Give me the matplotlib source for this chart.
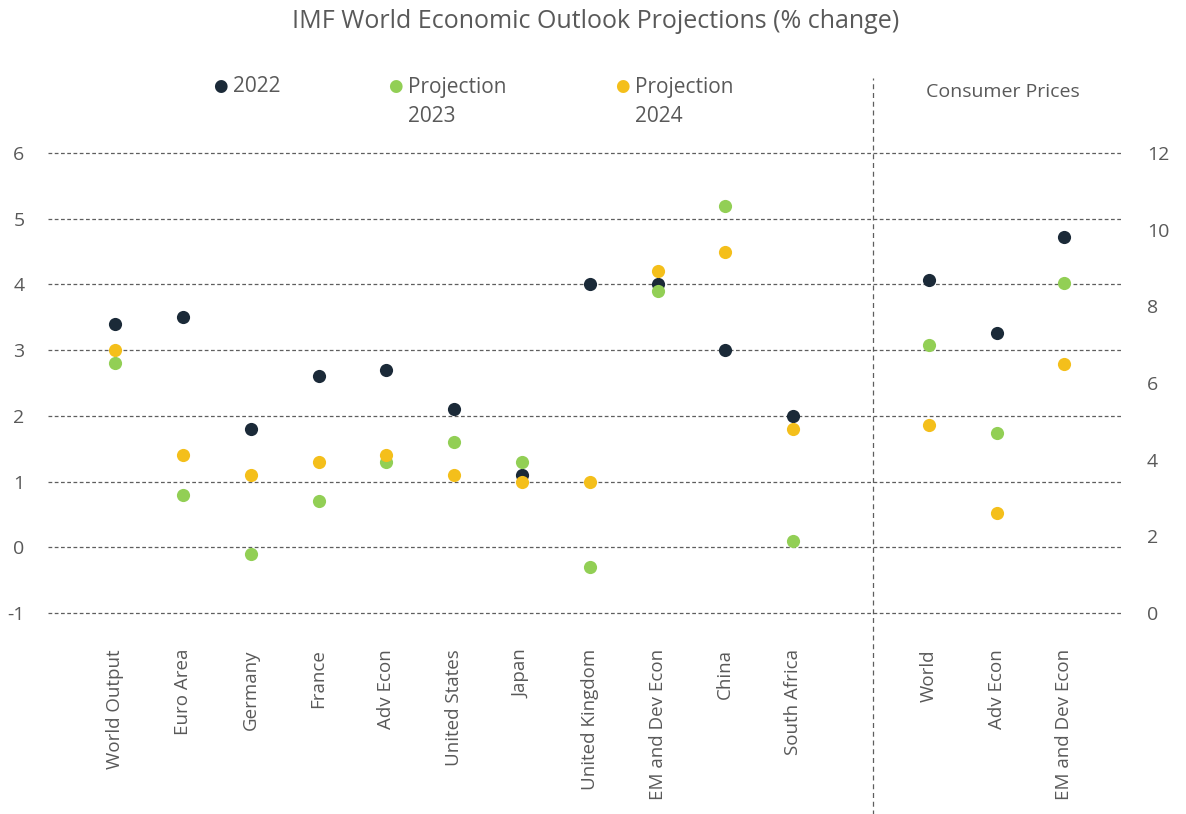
import matplotlib.pyplot as plt

plt.rcParams['font.family'] = ['Open Sans', 'DejaVu Sans']
plt.rcParams['axes.unicode_minus'] = False

# === Data (IMF WEO, % change) ===
growth_labels = ["World Output", "Euro Area", "Germany", "France", "Adv Econ",
                 "United States", "Japan", "United Kingdom", "EM and Dev Econ",
                 "China", "South Africa"]
growth_2022 = [3.4, 3.5, 1.8, 2.6, 2.7, 2.1, 1.1, 4.0, 4.0, 3.0, 2.0]
growth_2023 = [2.8, 0.8, -0.1, 0.7, 1.3, 1.6, 1.3, -0.3, 3.9, 5.2, 0.1]
growth_2024 = [3.0, 1.4, 1.1, 1.3, 1.4, 1.1, 1.0, 1.0, 4.2, 4.5, 1.8]

cpi_labels = ["World", "Adv Econ", "EM and Dev Econ"]
cpi_2022 = [8.7, 7.3, 9.8]
cpi_2023 = [7.0, 4.7, 8.6]
cpi_2024 = [4.9, 2.6, 6.5]

c2022 = "#1b2a38"
c2023 = "#92cf55"
c2024 = "#f4bf1b"
txt = "#595959"

gx = list(range(len(growth_labels)))
cx = [12 + i for i in range(len(cpi_labels))]

fig = plt.figure(figsize=(11.86, 8.14), dpi=100)
ax = fig.add_axes([48 / 1186, (814 - 613) / 814, 1074 / 1186, (613 - 78) / 814])
ax2 = ax.twinx()

ytop = 6 + (153 - 78) / 65.7
ax.set_ylim(-1, ytop)
ax2.set_ylim(0, (ytop + 1) * 12 / 7)
ax.set_xlim(-0.99, 14.85)

for v in range(-1, 7):
    ax.axhline(v, color="#5e5e5e", lw=0.9, ls=(0, (3, 2)), zorder=1, clip_on=False)

ax.axvline(11.18, ymin=-0.38, ymax=1, color="#5e5e5e", lw=0.9, ls=(0, (4, 3)),
           clip_on=False, zorder=1)

ms = 90
ax.scatter(gx, growth_2022, s=ms, color=c2022, zorder=3, lw=0)
ax.scatter(gx, growth_2023, s=ms, color=c2023, zorder=3, lw=0)
ax.scatter(gx, growth_2024, s=ms, color=c2024, zorder=3, lw=0)
ax2.scatter(cx, cpi_2022, s=ms, color=c2022, zorder=3, lw=0)
ax2.scatter(cx, cpi_2023, s=ms, color=c2023, zorder=3, lw=0)
ax2.scatter(cx, cpi_2024, s=ms, color=c2024, zorder=3, lw=0)

ax.set_yticks(range(-1, 7))
ax2.set_yticks(range(0, 13, 2))
ax.set_xticks(gx + cx)
ax.set_xticklabels(growth_labels + cpi_labels, rotation=90, va="top", ha="center")

for a in (ax, ax2):
    for s in a.spines.values():
        s.set_visible(False)
    a.tick_params(length=0, colors=txt, labelsize=14)
ax.tick_params(axis="y", pad=17)
ax.tick_params(axis="x", pad=26, labelsize=13.5)
ax2.tick_params(axis="y", pad=18)

# legend, drawn as text like the original
fig.text(220 / 1186, 1 - 87 / 814, "\u25CF", color=c2022, fontsize=12, va="center", ha="center")
fig.text(233 / 1186, 1 - 87 / 814, "2022", color=txt, fontsize=15, va="center")
fig.text(395 / 1186, 1 - 87 / 814, "\u25CF", color=c2023, fontsize=12, va="center", ha="center")
fig.text(408 / 1186, 1 - 87 / 814, "Projection", color=txt, fontsize=15, va="center")
fig.text(408 / 1186, 1 - 116 / 814, "2023", color=txt, fontsize=15, va="center")
fig.text(622 / 1186, 1 - 87 / 814, "\u25CF", color=c2024, fontsize=12, va="center", ha="center")
fig.text(635 / 1186, 1 - 87 / 814, "Projection", color=txt, fontsize=15, va="center")
fig.text(635 / 1186, 1 - 116 / 814, "2024", color=txt, fontsize=15, va="center")
fig.text(1003 / 1186, 1 - 92 / 814, "Consumer Prices", color=txt, fontsize=14, va="center", ha="center")

fig.text(596 / 1186, 1 - 22 / 814, "IMF World Economic Outlook Projections (% change)",
         color=txt, fontsize=18, ha="center", va="center")

fig.savefig("out.png", dpi=100)
